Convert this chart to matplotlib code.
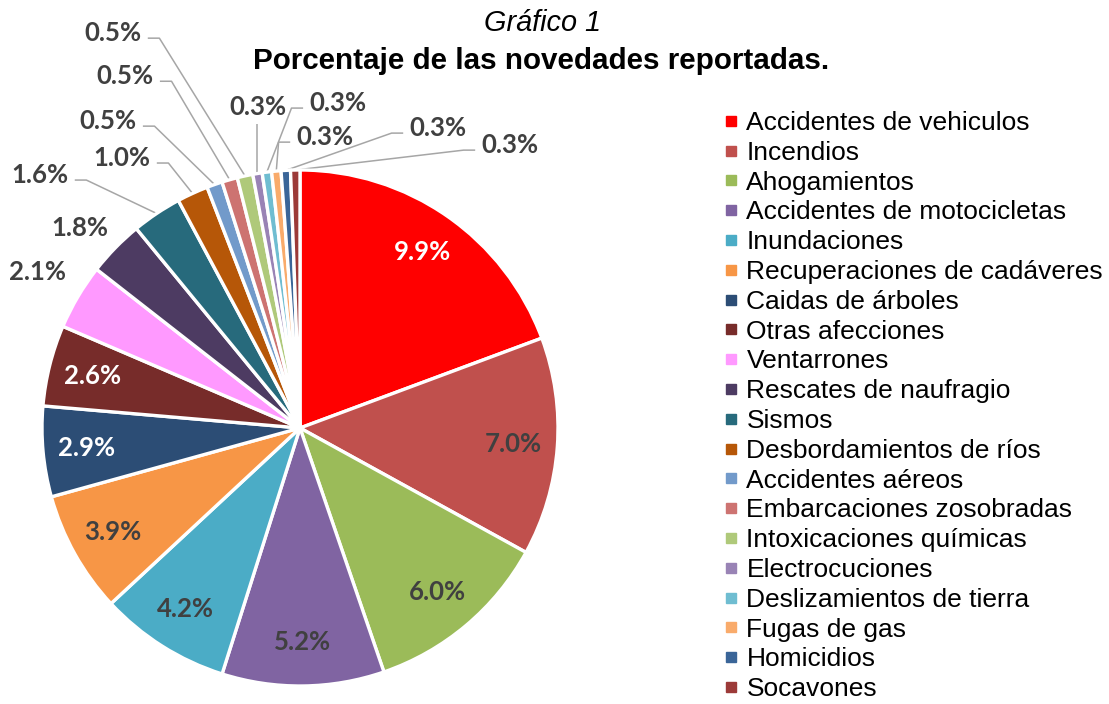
import numpy as np
import matplotlib.pyplot as plt
from matplotlib.lines import Line2D

categorias = [
    "Accidentes de vehiculos", "Incendios", "Ahogamientos",
    "Accidentes de motocicletas", "Inundaciones", "Recuperaciones de cadáveres",
    "Caidas de árboles", "Otras afecciones", "Ventarrones",
    "Rescates de naufragio", "Sismos", "Desbordamientos de ríos",
    "Accidentes aéreos", "Embarcaciones zosobradas", "Intoxicaciones químicas",
    "Electrocuciones", "Deslizamientos de tierra", "Fugas de gas",
    "Homicidios", "Socavones",
]
porcentajes = [9.9, 7.0, 6.0, 5.2, 4.2, 3.9, 2.9, 2.6, 2.1, 1.8,
               1.6, 1.0, 0.5, 0.5, 0.5, 0.3, 0.3, 0.3, 0.3, 0.3]
colores = [
    "#FF0000", "#C0504D", "#9BBB59", "#8064A2", "#4BACC6", "#F79646",
    "#2C4D75", "#772C2A", "#FF99FF", "#4D3B62", "#276A7C", "#B65708",
    "#729ACA", "#CD7371", "#AFC97A", "#9983B5", "#6FBDD1", "#F9AB6B",
    "#3A6598", "#9C3A38",
]

plt.rcParams["font.family"] = ["Liberation Sans", "DejaVu Sans"]

W, H = 1109, 704
fig = plt.figure(figsize=(W / 100, H / 100), dpi=100)
ax = fig.add_axes([0, 0, 1, 1])

wedges, _ = ax.pie(
    porcentajes, colors=colores, startangle=90, counterclock=False,
    radius=1.0, wedgeprops=dict(edgecolor="white", linewidth=2.4),
)

# pie centre and radius in pixels
R_PX, CX, CY = 258, 300, 428
ax.set_xlim(-CX / R_PX, (W - CX) / R_PX)
ax.set_ylim(-(H - CY) / R_PX, CY / R_PX)
ax.set_aspect("equal")
ax.axis("off")

etiqueta_font = dict(family=["Lato", "DejaVu Sans"], fontweight="bold", fontsize=18.5)
blancos = {0, 6, 7}

# labels inside the slices
n_dentro = 8
for i in range(n_dentro):
    w = wedges[i]
    ang = np.deg2rad((w.theta1 + w.theta2) / 2)
    ax.text(0.83 * np.cos(ang), 0.83 * np.sin(ang), f"{porcentajes[i]:.1f}%",
            ha="center", va="center",
            color="white" if i in blancos else "#404040", **etiqueta_font)

# labels outside (manual layout like the original), in pie radius units
fuera = {
    8: (-1.016, 0.605, None),
    9: (-0.853, 0.775, None),
    10: (-1.008, 0.981, "right"),
    11: (-0.690, 1.047, "right"),
    12: (-0.744, 1.190, "right"),
    13: (-0.678, 1.364, "right"),
    14: (-0.725, 1.531, "right"),
    15: (-0.163, 1.244, "bottom"),
    16: (0.147, 1.260, "left"),
    17: (0.097, 1.128, "left"),
    18: (0.535, 1.163, "left"),
    19: (0.814, 1.097, "left"),
}
hw = 0.115
for i, (lx, ly, lado) in fuera.items():
    ax.text(lx, ly, f"{porcentajes[i]:.1f}%", ha="center", va="center",
            color="#404040", **etiqueta_font)
    if lado is None:
        continue
    w = wedges[i]
    ang = np.deg2rad((w.theta1 + w.theta2) / 2)
    ex, ey = np.cos(ang), np.sin(ang)
    if lado == "right":
        x0 = lx + hw + 0.02
        xs = [x0, x0 + 0.045, ex]
        ys = [ly - 0.02, ly - 0.02, ey]
    elif lado == "left":
        x0 = lx - hw - 0.02
        xs = [x0, x0 - 0.045, ex]
        ys = [ly - 0.02, ly - 0.02, ey]
    else:
        xs = [ex, ex]
        ys = [ly - 0.065, ey]
    ax.plot(xs, ys, color="#A6A6A6", lw=1.1, solid_capstyle="butt", zorder=0)

fig.text(542 / W, 1 - 23 / H, "Gráfico 1", ha="center", va="center",
         fontsize=20.8, fontstyle="italic")
fig.text(541 / W, 1 - 61 / H, "Porcentaje de las novedades reportadas.",
         ha="center", va="center", fontsize=21.3, fontweight="bold")

handles = [Line2D([], [], marker="s", linestyle="", color=c, markersize=7)
           for c in colores]
fig.legend(handles, categorias, loc="upper left",
           bbox_to_anchor=(724 / W, 1 - 111 / H), frameon=False,
           fontsize=19, handlelength=0.5, handletextpad=0.35,
           labelspacing=0.22, borderpad=0, borderaxespad=0)

fig.savefig("out.png", dpi=100)
